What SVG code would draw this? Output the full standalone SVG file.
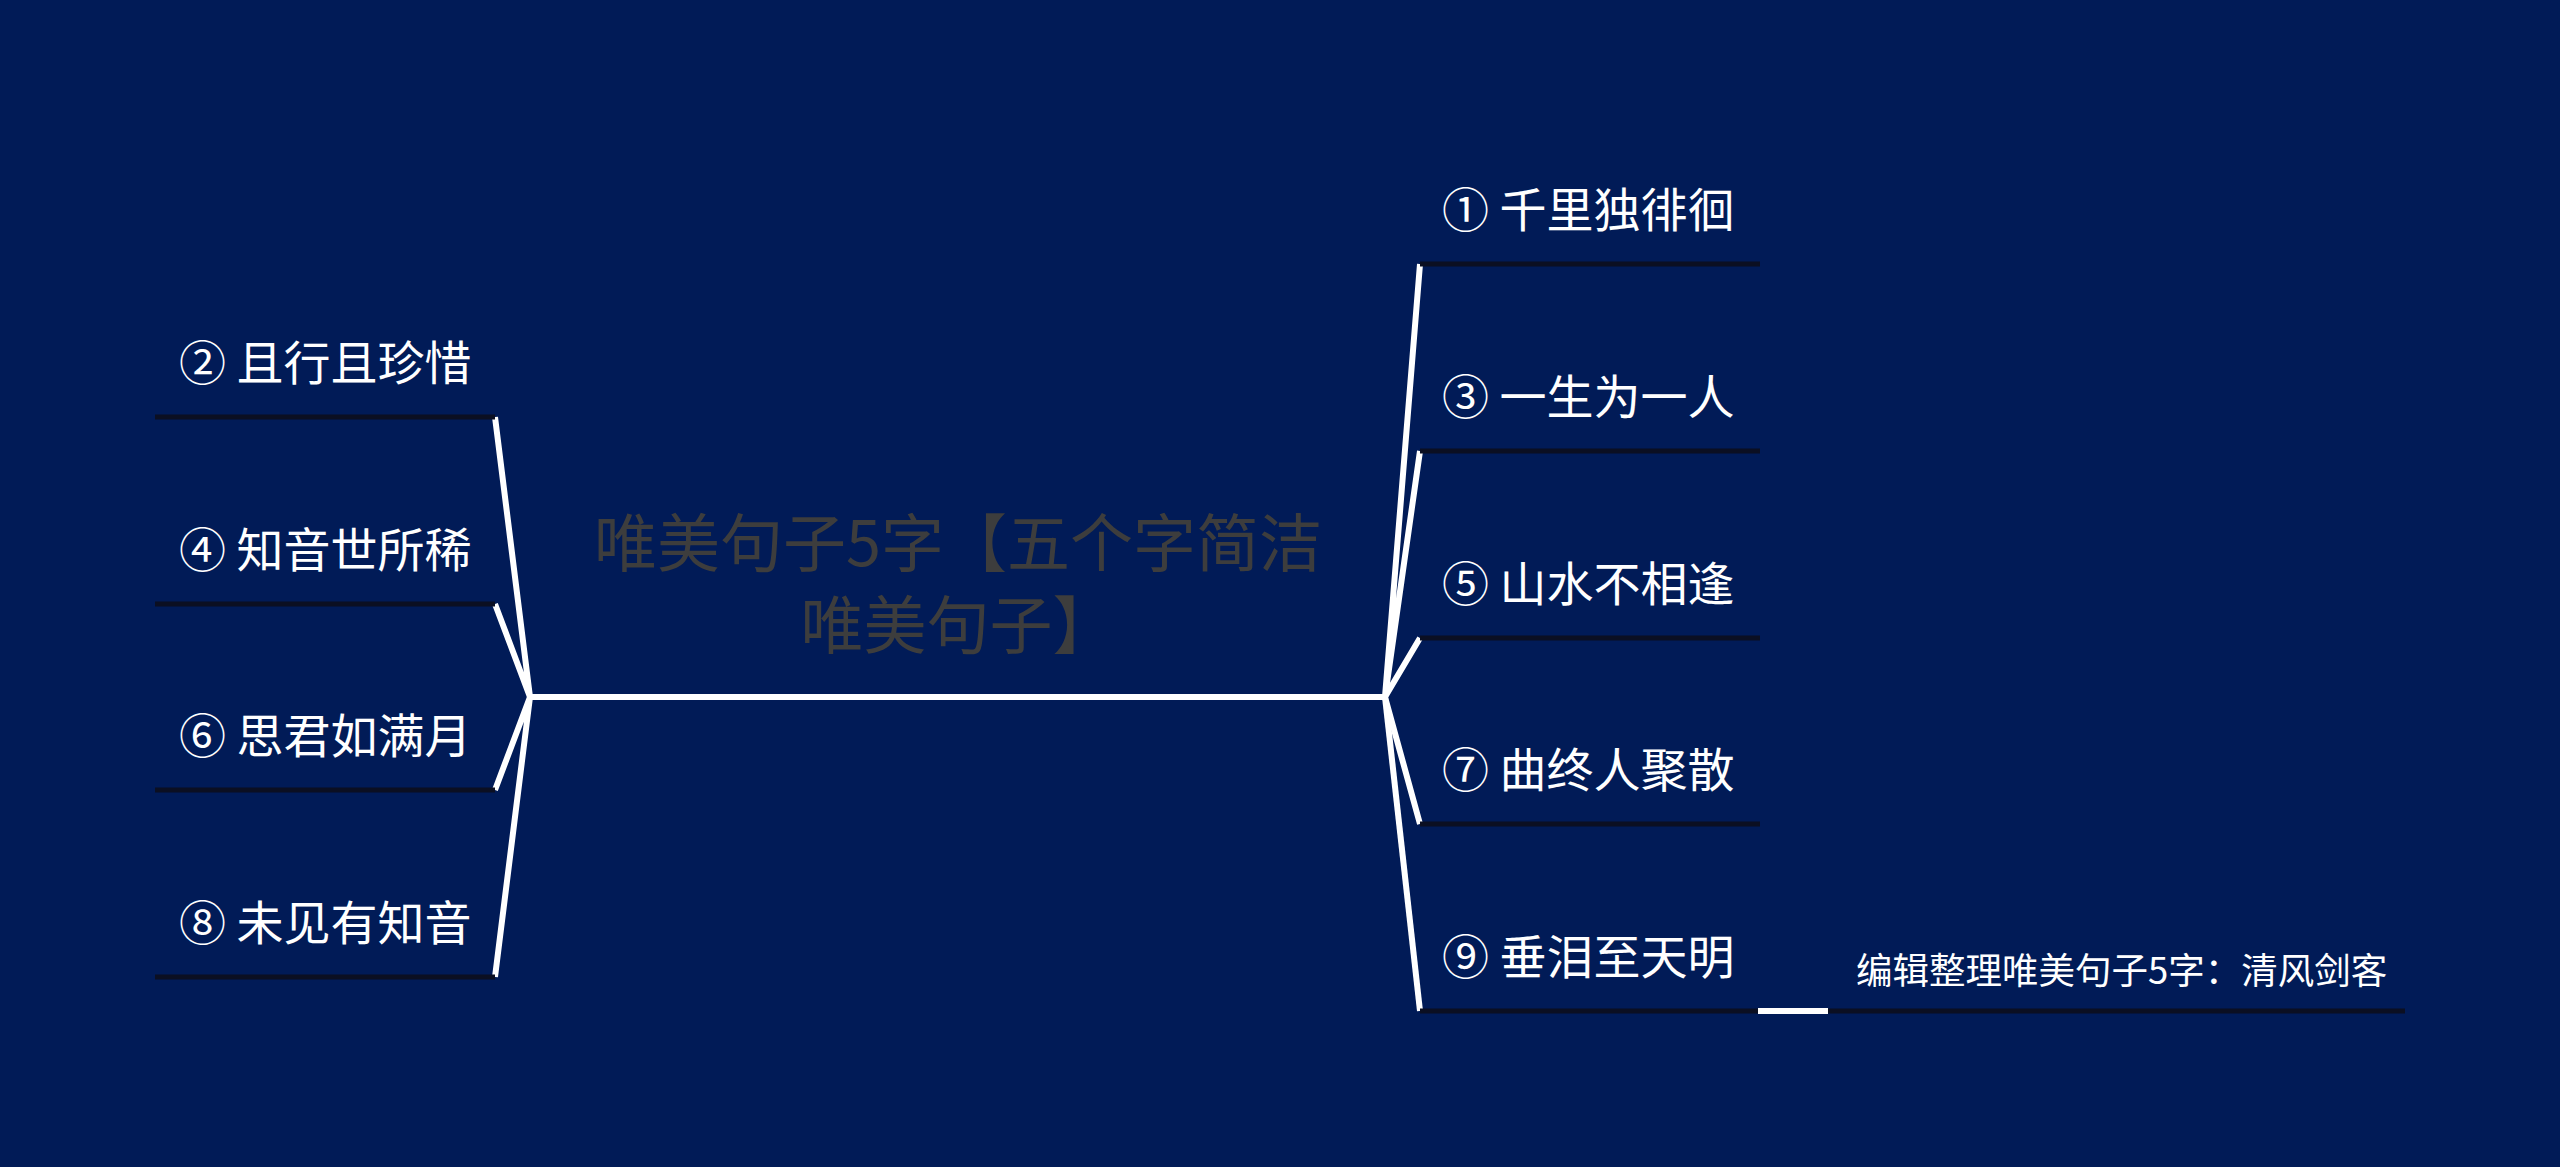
<svg xmlns="http://www.w3.org/2000/svg" width="2560" height="1167" viewBox="0 0 2560 1167">
<style>
.bg{fill:#011b57}
.t{font-family:"Noto Sans CJK SC","Noto Sans",sans-serif;font-size:47px;fill:#ffffff}
.ft{font-family:"Noto Sans CJK SC","Noto Sans",sans-serif;font-size:36.5px;fill:#ffffff}
.ct{font-family:"Noto Sans CJK SC","Noto Sans",sans-serif;font-size:63px;fill:#3d3d3d;text-anchor:middle}
.ul{stroke:#0b0f22;stroke-width:5;fill:none}
.c{stroke:#ffffff;stroke-width:6;fill:none;stroke-linecap:butt;stroke-linejoin:round}
</style>
<rect class="bg" x="0" y="0" width="2560" height="1167"/>
<g id="connectors">
<line class="c" x1="528" y1="697" x2="1386" y2="697"/>
<polyline class="c" points="495,417 530,697 495,604"/>
<polyline class="c" points="495,790 530,697 495,977"/>
<polyline class="c" points="1420,264 1385,697 1420,451"/>
<polyline class="c" points="1420,638 1385,697 1420,824"/>
<line class="c" x1="1385" y1="697" x2="1420" y2="1011"/>
<line class="c" x1="1758" y1="1011" x2="1828" y2="1011"/>
</g>
<g id="root">
<text class="ct" x="958" y="566">唯美句子5字【五个字简洁</text>
<text class="ct" x="958" y="648">唯美句子】</text>
</g>
<g id="n1"><text class="t" x="1442" y="227">① 千里独徘徊</text><line class="ul" x1="1420" y1="264" x2="1760" y2="264"/></g>
<g id="n3"><text class="t" x="1442" y="414">③ 一生为一人</text><line class="ul" x1="1420" y1="451" x2="1760" y2="451"/></g>
<g id="n5"><text class="t" x="1442" y="601">⑤ 山水不相逢</text><line class="ul" x1="1420" y1="638" x2="1760" y2="638"/></g>
<g id="n7"><text class="t" x="1442" y="787">⑦ 曲终人聚散</text><line class="ul" x1="1420" y1="824" x2="1760" y2="824"/></g>
<g id="n9"><text class="t" x="1442" y="974">⑨ 垂泪至天明</text><line class="ul" x1="1420" y1="1011" x2="1758" y2="1011"/></g>
<g id="n2"><text class="t" x="179" y="380">② 且行且珍惜</text><line class="ul" x1="155" y1="417" x2="495" y2="417"/></g>
<g id="n4"><text class="t" x="179" y="567">④ 知音世所稀</text><line class="ul" x1="155" y1="604" x2="495" y2="604"/></g>
<g id="n6"><text class="t" x="179" y="753">⑥ 思君如满月</text><line class="ul" x1="155" y1="790" x2="495" y2="790"/></g>
<g id="n8"><text class="t" x="179" y="940">⑧ 未见有知音</text><line class="ul" x1="155" y1="977" x2="495" y2="977"/></g>
<g id="footer"><text class="ft" x="1856" y="984">编辑整理唯美句子5字：清风剑客</text><line class="ul" x1="1828" y1="1011" x2="2405" y2="1011"/></g>
</svg>
